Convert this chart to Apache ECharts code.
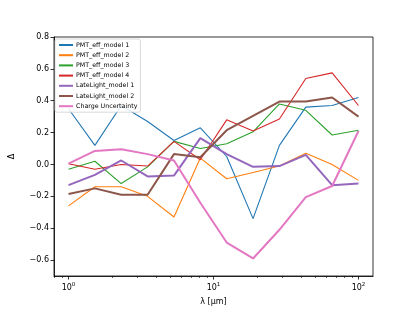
<!DOCTYPE html>
<html>
<head>
<meta charset="utf-8">
<script src="https://cdn.jsdelivr.net/npm/echarts@6/dist/echarts.min.js"></script>
<style>html,body{margin:0;padding:0;background:#fff}#c{width:415px;height:311px}</style>
</head>
<body>
<div id="c"></div>
<script>
// wavelengths (log-spaced 1..100 µm, 12 points)
const lambda = [1, 1.520, 2.310, 3.511, 5.337, 8.111, 12.33, 18.74, 28.48, 43.29, 65.79, 100];
const seriesNames = ['PMT_eff_model 1','PMT_eff_model 2','PMT_eff_model 3','PMT_eff_model 4','LateLight_model 1','LateLight_model 2','Charge Uncertainty'];
const pmt1 = [0.35, 0.12, 0.37, 0.27, 0.15, 0.23, 0.05, -0.34, 0.12, 0.36, 0.37, 0.42];
const pmt2 = [-0.26, -0.14, -0.14, -0.20, -0.33, 0.04, -0.09, -0.05, -0.01, 0.07, 0.00, -0.10];
const pmt3 = [-0.03, 0.02, -0.12, -0.015, 0.145, 0.10, 0.13, 0.205, 0.38, 0.34, 0.185, 0.215];
const pmt4 = [0.005, -0.03, 0.00, -0.01, 0.145, 0.03, 0.28, 0.21, 0.285, 0.54, 0.575, 0.37];
const late1 = [-0.13, -0.065, 0.025, -0.075, -0.07, 0.165, 0.065, -0.015, -0.01, 0.06, -0.13, -0.12];
const late2 = [-0.185, -0.15, -0.19, -0.19, 0.065, 0.045, 0.215, 0.305, 0.395, 0.395, 0.42, 0.30];
const charge = [0.005, 0.085, 0.095, 0.065, 0.025, -0.24, -0.49, -0.59, -0.41, -0.205, -0.135, 0.21];
const yTicks = [-0.6, -0.4, -0.2, 0.0, 0.2, 0.4, 0.6, 0.8];
const xTicks = [1, 10, 100];

const allValues = [pmt1, pmt2, pmt3, pmt4, late1, late2, charge];
const colors = ['#1f77b4','#ff7f0e','#2ca02c','#d62728','#9467bd','#8c564b','#e377c2'];
const widths = [1.1, 1.1, 1.1, 1.1, 2, 2, 2];

const font = 'DejaVu Sans';
const chart = echarts.init(document.getElementById('c'), null, {renderer: 'canvas'});
chart.setOption({
  animation: false,
  textStyle: {fontFamily: font},
  grid: {left: 53, right: 42, top: 37, bottom: 34, show: true, borderColor: '#000', borderWidth: 0.8, backgroundColor: 'transparent'},
  legend: {
    orient: 'vertical', left: 55, top: 39,
    itemWidth: 14, itemHeight: 6, itemGap: 4.2,
    padding: [3, 3, 3, 3],
    borderColor: '#d0d0d0', borderWidth: 0.8, borderRadius: 2,
    backgroundColor: 'rgba(255,255,255,0.85)',
    itemStyle: {opacity: 0},
    textStyle: {fontSize: 6.3, color: '#000', fontFamily: font, padding: [0, 0, 0, -2]},
    data: seriesNames
  },
  xAxis: {
    type: 'log', logBase: 10, min: 0.794, max: 125.9,
    name: 'λ [μm]', nameLocation: 'middle', nameGap: 22,
    nameTextStyle: {fontSize: 8, color: '#000', fontFamily: font},
    axisLine: {show: true, onZero: false, lineStyle: {color: '#000', width: 0.8}},
    axisTick: {show: true, customValues: xTicks, length: 3.5, lineStyle: {color: '#000', width: 0.8}},
    minorTick: {show: true, splitNumber: 9, length: 2, lineStyle: {color: '#000', width: 0.6}},
    axisLabel: {
      customValues: xTicks, margin: 6, color: '#000', fontSize: 8,
      formatter: function (v) { return '{b|10}{s|' + Math.round(Math.log10(v)) + '}'; },
      rich: {b: {fontSize: 8, fontFamily: font, color: '#000'}, s: {fontSize: 5.5, fontFamily: font, color: '#000', verticalAlign: 'top', padding: [0, 0, 5, 0]}}
    },
    splitLine: {show: false},
    minorSplitLine: {show: false}
  },
  yAxis: {
    type: 'value', min: -0.7, max: 0.8,
    name: 'Δ', nameLocation: 'middle', nameGap: 38, nameRotate: 90,
    nameTextStyle: {fontSize: 8, color: '#000', fontFamily: font},
    axisLine: {show: true, onZero: false, lineStyle: {color: '#000', width: 0.8}},
    axisTick: {show: true, customValues: yTicks, length: 3.5, lineStyle: {color: '#000', width: 0.8}},
    axisLabel: {
      customValues: yTicks, margin: 5, color: '#000', fontSize: 8,
      formatter: function (v) { return v.toFixed(1).replace('-', '\u2212'); }
    },
    splitLine: {show: false}
  },
  series: seriesNames.map(function (n, i) {
    return {
      name: n, type: 'line',
      data: lambda.map(function (x, j) { return [x, allValues[i][j]]; }),
      symbol: 'none', color: colors[i],
      lineStyle: {width: widths[i], color: colors[i]},
      z: 2 + i
    };
  })
});
</script>
</body>
</html>
